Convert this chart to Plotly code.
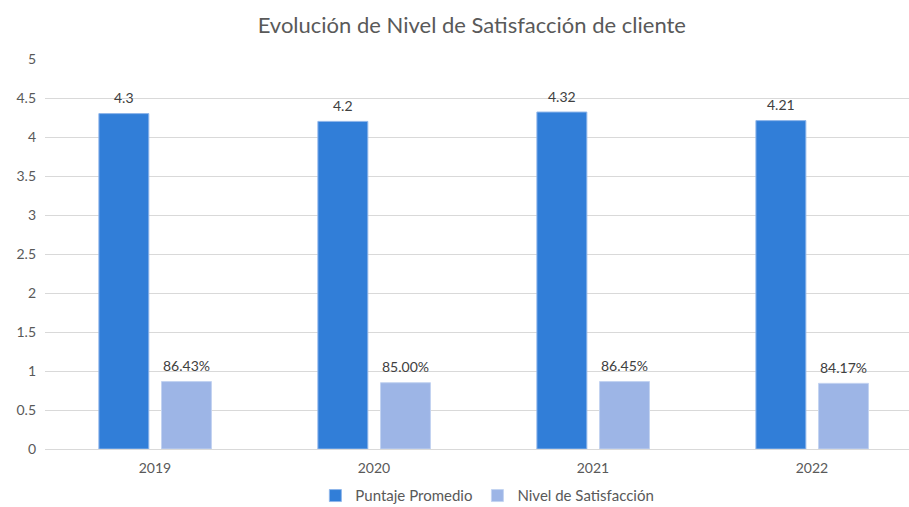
import plotly.graph_objects as go

years = ["2019", "2020", "2021", "2022"]
puntaje = [4.3, 4.2, 4.32, 4.21]
puntaje_labels = ["4.3", "4.2", "4.32", "4.21"]
nivel = [0.8643, 0.8500, 0.8645, 0.8417]
nivel_labels = ["86.43%", "85.00%", "86.45%", "84.17%"]
y_ticks = [0, 0.5, 1, 1.5, 2, 2.5, 3, 3.5, 4, 4.5, 5]
y_tick_text = ["0", "0.5", "1", "1.5", "2", "2.5", "3", "3.5", "4", "4.5", "5"]

FONT = "Lato, 'Open Sans', sans-serif"
LABEL_COLOR = "#404040"

fig = go.Figure()
fig.add_trace(go.Bar(
    x=years, y=puntaje, name="Puntaje Promedio",
    marker=dict(color="#317ed8", line=dict(color="#8fb6ea", width=1)),
    width=0.228, offset=-0.256,
))
fig.add_trace(go.Bar(
    x=years, y=nivel, name="Nivel de Satisfacción",
    marker=dict(color="#9db5e6", line=dict(color="#c3d3f1", width=1)),
    width=0.228, offset=0.030,
))

annotations = []
for i, (v, lab) in enumerate(zip(puntaje, puntaje_labels)):
    annotations.append(dict(x=i - 0.142, y=v, xref="x", yref="y", text=lab, showarrow=False,
                            yshift=16, yanchor="middle", xanchor="center",
                            font=dict(size=14, color=LABEL_COLOR, family=FONT)))
for i, (v, lab) in enumerate(zip(nivel, nivel_labels)):
    annotations.append(dict(x=i + 0.144, y=v, xref="x", yref="y", text=lab, showarrow=False,
                            yshift=16, yanchor="middle", xanchor="center",
                            font=dict(size=14, color=LABEL_COLOR, family=FONT)))

fig.update_layout(
    width=909, height=507,
    margin=dict(l=45, r=0, t=59, b=58, autoexpand=False),
    paper_bgcolor="white", plot_bgcolor="white",
    barmode="group",
    annotations=annotations,
    title=dict(text="Evolución de Nivel de Satisfacción de cliente",
               x=0.494, xref="paper", xanchor="center",
               y=0.951, yref="container", yanchor="middle",
               font=dict(size=22, color="#595959", family=FONT)),
    font=dict(family=FONT, color="#595959", size=13),
    showlegend=True,
    legend=dict(orientation="h", x=0.512, xanchor="center",
                yref="paper", y=-0.12, yanchor="middle",
                font=dict(size=15, color="#595959", family=FONT),
                itemwidth=30, traceorder="normal"),
    xaxis=dict(type="category", range=[-0.502, 3.443], showgrid=False,
               showline=True, linecolor="#d9d9d9", linewidth=1,
               ticks="", ticklabelstandoff=6, automargin=False,
               tickfont=dict(size=14, color="#595959"), fixedrange=True),
    yaxis=dict(range=[0, 5], tickvals=y_ticks, ticktext=y_tick_text,
               showgrid=True, gridcolor="#d9d9d9", gridwidth=1,
               zeroline=False, showline=False, ticks="",
               ticklabelstandoff=8, automargin=False,
               tickfont=dict(size=14, color="#595959")),
)

fig.write_html("out.html", config={"displayModeBar": False},
               post_script="document.body.style.margin='0';")
